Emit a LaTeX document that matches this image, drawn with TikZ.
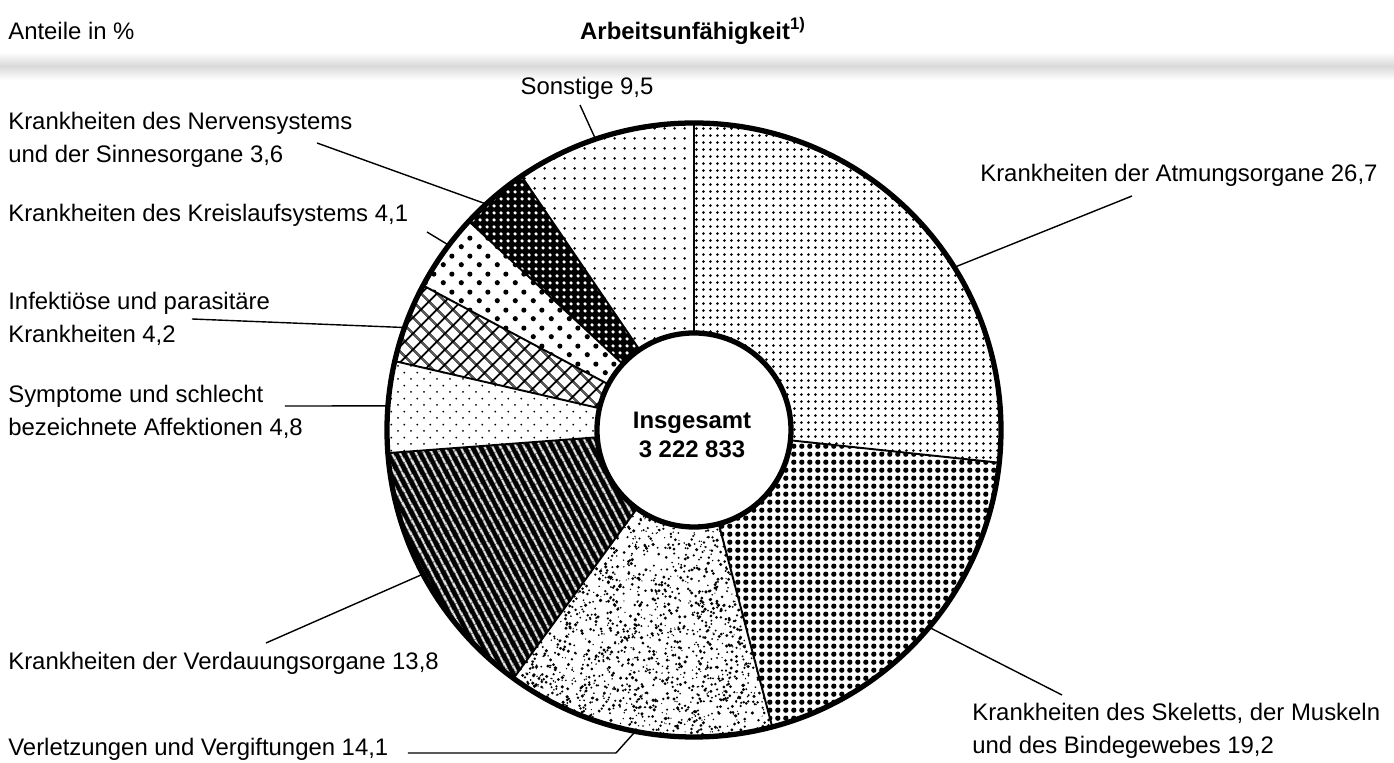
\documentclass[tikz,border=0pt]{standalone}
\usepackage{fontspec}
\setmainfont{Liberation Sans}
\usetikzlibrary{patterns,patterns.meta}

% fillings of the ring parts
\pgfdeclarepatternformonly{atmdots}{\pgfpointorigin}{\pgfqpoint{4.2pt}{4.2pt}}{\pgfqpoint{4.2pt}{4.2pt}}{
	\pgfpathcircle{\pgfqpoint{2.1pt}{2.1pt}}{0.9pt}\pgfusepath{fill}}
\pgfdeclarepatternformonly{skeldots}{\pgfpointorigin}{\pgfqpoint{4.7pt}{4.7pt}}{\pgfqpoint{4.7pt}{4.7pt}}{
	\pgfpathcircle{\pgfqpoint{2.35pt}{2.35pt}}{1.65pt}\pgfusepath{fill}}
\pgfdeclarepatternformonly{sonsdots}{\pgfpointorigin}{\pgfqpoint{5.7pt}{5.7pt}}{\pgfqpoint{5.7pt}{5.7pt}}{
	\pgfpathcircle{\pgfqpoint{2.85pt}{2.85pt}}{0.85pt}\pgfusepath{fill}}
\pgfdeclarepatternformonly{nervdots}{\pgfpointorigin}{\pgfqpoint{4pt}{4pt}}{\pgfqpoint{4pt}{4pt}}{
	\pgfpathcircle{\pgfqpoint{2pt}{2pt}}{1.15pt}\pgfusepath{fill}}
\pgfdeclarepatternformonly{kreisdots}{\pgfpointorigin}{\pgfqpoint{10pt}{10pt}}{\pgfqpoint{10pt}{10pt}}{
	\pgfpathcircle{\pgfqpoint{2.5pt}{2.5pt}}{1.5pt}
	\pgfpathcircle{\pgfqpoint{7.5pt}{7.5pt}}{1.5pt}\pgfusepath{fill}}
\pgfdeclarepatternformonly{sympdots}{\pgfpointorigin}{\pgfqpoint{7.5pt}{7.5pt}}{\pgfqpoint{7.5pt}{7.5pt}}{
	\pgfpathcircle{\pgfqpoint{1.875pt}{1.875pt}}{0.6pt}
	\pgfpathcircle{\pgfqpoint{5.625pt}{5.625pt}}{0.6pt}\pgfusepath{fill}}

\newcommand{\ringpart}[2]{(#1:97) -- (#1:307) arc[start angle=#1, end angle=#2, radius=307] -- (#2:97) arc[start angle=#2, end angle=#1, radius=97] -- cycle}

\begin{document}
\begin{tikzpicture}[
	x = 0.02cm,
	y = 0.02cm,
	lbl/.style = {
		anchor = west,
		align = left,
		inner sep = 0pt,
		font = \fontsize{13.6}{18.8}\selectfont
	},
	leader/.style = {line width = 0.8pt},
	divider/.style = {line width = 1.1pt},
	rim/.style = {line width = 3pt}
	]
	\useasboundingbox (-694,-333) rectangle (700,430);
	\shade[top color = white, bottom color = white, middle color = black!15] (-694,350) rectangle (700,378);

	\node[lbl] (anteile) at (-686,399) {Anteile in \%};
	\node[inner sep = 0pt, font = \fontsize{13.6}{16}\selectfont\bfseries] (titel) at (-1,399) {Arbeitsunfähigkeit\textsuperscript{1)}};

	% the ring
	\fill[pattern = atmdots] \ringpart{90}{-6.12};
	\fill[pattern = skeldots] \ringpart{-6.12}{-75.24};
	\begin{scope}
		\clip \ringpart{-75.24}{-126};
		\pgfmathsetseed{4711}
		\foreach \i in {1,...,1500}{
			\pgfmathsetmacro{\ang}{-127+53*rnd}
			\pgfmathsetmacro{\rad}{100*sqrt(0.94+8.55*rnd)}
			\pgfmathsetmacro{\sz}{0.35+0.65*rnd}
			\fill (\ang:\rad) circle[radius = \sz pt];
		}
	\end{scope}
	\fill[black] \ringpart{-126}{-175.68};
	\fill[pattern = {Lines[angle = -62, distance = 4pt, line width = 1.3pt]}, pattern color = white] \ringpart{-126}{-175.68};
	\fill[pattern = sympdots] \ringpart{-175.68}{-192.96};
	\fill[pattern = {Hatch[angle = 45, distance = 6.4pt, line width = 1.1pt]}] \ringpart{-192.96}{-208.08};
	\fill[pattern = kreisdots] \ringpart{-208.08}{-222.84};
	\fill[black] \ringpart{-222.84}{-235.8};
	\fill[pattern = nervdots, pattern color = white] \ringpart{-222.84}{-235.8};
	\fill[pattern = sonsdots] \ringpart{-235.8}{-270};
	\foreach \a in {90,-6.12,-75.24,-126,-175.68,-192.96,-208.08,-222.84,-235.8}
		\draw[divider] (\a:97) -- (\a:307);
	\draw[rim] (0,0) circle[radius = 307];
	\filldraw[rim, fill = white] (0,0) circle[radius = 97];
	\node[align = center, inner sep = 0pt, font = \fontsize{13.6}{16.5}\selectfont\bfseries] (gesamt) at (-2,-5) {Insgesamt\\3 222 833};

	% labels
	\node[lbl, anchor = center] (sonst) at (-107,342) {Sonstige 9,5};
	\node[lbl] (nerv) at (-686,290) {Krankheiten des Nervensystems\\und der Sinnesorgane 3,6};
	\node[lbl] (kreis) at (-686,215) {Krankheiten des Kreislaufsystems 4,1};
	\node[lbl] (inf) at (-686,111) {Infektiöse und parasitäre\\Krankheiten 4,2};
	\node[lbl] (symp) at (-686,18) {Symptome und schlecht\\bezeichnete Affektionen 4,8};
	\node[lbl] (verd) at (-686,-233) {Krankheiten der Verdauungsorgane 13,8};
	\node[lbl] (verl) at (-686,-319) {Verletzungen und Vergiftungen 14,1};
	\node[lbl] (atm) at (286,255) {Krankheiten der Atmungsorgane 26,7};
	\node[lbl] (skel) at (278,-301) {Krankheiten des Skeletts, der Muskeln\\und des Bindegewebes 19,2};

	% leaders
	\coordinate (sonst-a) at (-114,325);
	\coordinate (sonst-b) at (108.7:307);
	\coordinate (nerv-a) at (-377,287);
	\coordinate (nerv-b) at (132.6:307);
	\coordinate (kreis-a) at (-267,198);
	\coordinate (kreis-b) at (143:307);
	\coordinate (inf-a) at (-502,111);
	\coordinate (inf-b) at (160.5:307);
	\coordinate (symp-a) at (-409,24);
	\coordinate (symp-b) at (175.5:307);
	\coordinate (verd-a) at (-428,-213);
	\coordinate (verd-b) at (208:307);
	\coordinate (verl-a) at (-286,-323);
	\coordinate (verl-k) at (-78,-323);
	\coordinate (verl-b) at (-101:307);
	\coordinate (atm-a) at (438,234);
	\coordinate (atm-b) at (32:307);
	\coordinate (skel-a) at (368,-265);
	\coordinate (skel-b) at (-40:307);
	\draw[leader] (sonst-a) -- (sonst-b);
	\draw[leader] (nerv-a) -- (nerv-b);
	\draw[leader] (kreis-a) -- (kreis-b);
	\draw[leader] (inf-a) -- (inf-b);
	\draw[leader] (symp-a) -- (symp-b);
	\draw[leader] (verd-a) -- (verd-b);
	\draw[leader] (verl-a) -- (verl-k) -- (verl-b);
	\draw[leader] (atm-a) -- (atm-b);
	\draw[leader] (skel-a) -- (skel-b);
\end{tikzpicture}
\end{document}
